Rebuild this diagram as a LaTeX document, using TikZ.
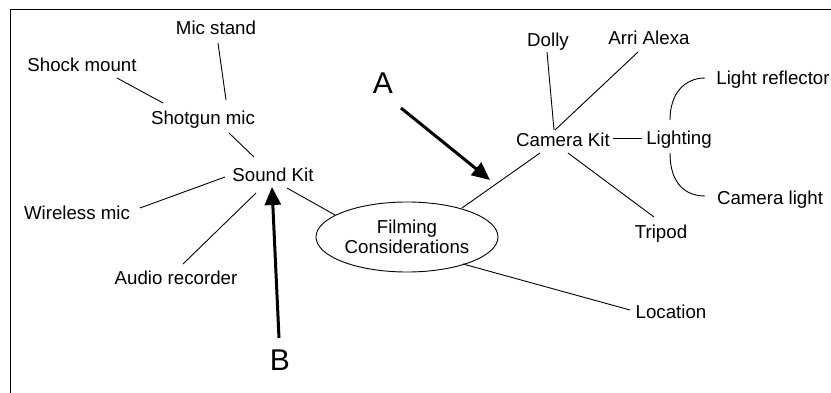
\documentclass[tikz,border=0pt]{standalone}
\usepackage{fontspec}
\setmainfont{Liberation Sans}
\usetikzlibrary{calc,arrows.meta,shapes.geometric}
\begin{document}
\begin{tikzpicture}[x=1pt,y=-1pt,
  lbl/.style={inner sep=0pt,text height=13.4pt,text depth=0pt,font=\fontsize{18.7pt}{20pt}\selectfont},
  hub/.style={ellipse,draw,line width=0.9pt,minimum width=182pt,minimum height=70pt,inner sep=0pt,align=center,font=\fontsize{18.7pt}{20pt}\selectfont},
  conn/.style={line width=0.9pt},
  bigarrow/.style={line width=3pt,-{Triangle[length=18pt,width=16pt]}},
  letter/.style={inner sep=0pt,text height=21.5pt,text depth=0pt,font=\fontsize{30pt}{30pt}\selectfont}]
\useasboundingbox (0,0) rectangle (831,393);
\draw[conn] (10,393) -- (10,9) -- (831,9);
% nodes
\node[lbl] (ms) at (216,28) {Mic stand};
\node[lbl] (sm) at (82,65) {Shock mount};
\node[lbl] (sg) at (203,118) {Shotgun mic};
\node[lbl] (sk) at (273,175) {Sound Kit};
\node[lbl] (wl) at (77,213) {Wireless mic};
\node[lbl] (ar) at (176,278) {Audio recorder};
\node[hub] (fc) at (407,237) {Filming\\Considerations};
\node[lbl] (ck) at (563,140) {Camera Kit};
\node[lbl] (dl) at (548,40) {Dolly};
\node[lbl] (aa) at (649,38) {Arri Alexa};
\node[lbl] (li) at (679,138) {Lighting};
\node[lbl] (lr) at (773,78) {Light reflector};
\node[lbl] (cl) at (770,198) {Camera light};
\node[lbl] (tp) at (661,232) {Tripod};
\node[lbl] (lo) at (671,312) {Location};
\node[letter] (la) at (383,83) {A};
\node[letter] (lb) at (280,360) {B};
% connectors
\draw[conn] ($(sm)+(35,13)$) -- ($(sg)+(-40,-15)$);
\draw[conn] ($(ms)+(2,15)$) -- ($(sg)+(23,-18)$);
\draw[conn] ($(sg)+(26,15)$) -- ($(sk)+(-19,-18)$);
\draw[conn] ($(wl)+(63,-5)$) -- ($(sk)+(-48,2)$);
\draw[conn] ($(ar)+(7,-14)$) -- ($(sk)+(-17,18)$);
\draw[conn] ($(sk)+(14,13)$) -- ($(fc)+(-72,-22)$);
\draw[conn] ($(fc)+(55,-29)$) -- ($(ck)+(-23,13)$);
\draw[conn] ($(ck)+(-9,-10)$) -- ($(dl)+(-1,12)$);
\draw[conn] ($(ck)+(-8,-10)$) -- ($(aa)+(-11,14)$);
\draw[conn] ($(ck)+(50,-2)$) -- ($(li)+(-37,0)$);
\draw[conn] ($(ck)+(5,13)$) -- ($(tp)+(-7,-15)$);
\draw[conn] ($(fc)+(56,27)$) -- ($(lo)+(-41,-2)$);
\draw[conn] ($(li)+(-9,-18)$) .. controls ($(li)+(-9,-45)$) and ($(lr)+(-88,0)$) .. ($(lr)+(-68,0)$);
\draw[conn] ($(li)+(-9,15)$) .. controls ($(li)+(-9,45)$) and ($(cl)+(-85,-2)$) .. ($(cl)+(-65,-2)$);
% arrows
\coordinate (tipA) at ($(fc)+(83,-57)$);
\draw[bigarrow] ($(la)+(18,25)$) -- (tipA);
\draw[bigarrow] ($(lb)+(-1,-22)$) -- ($(sk)+(-1,12)$);
\end{tikzpicture}
\end{document}
